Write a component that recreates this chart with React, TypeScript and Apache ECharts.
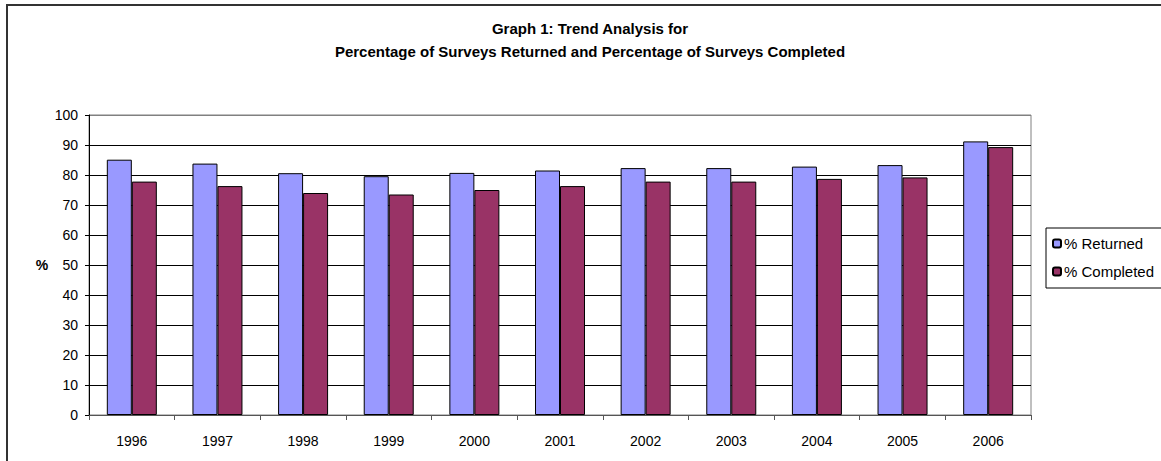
import React, { useEffect, useRef } from "react";
import * as echarts from "echarts";

const years = ["1996", "1997", "1998", "1999", "2000", "2001", "2002", "2003", "2004", "2005", "2006"];
const returned = [85.1, 83.8, 80.6, 79.6, 80.7, 81.5, 82.3, 82.3, 82.8, 83.3, 91.2];
const completed = [77.8, 76.3, 74.0, 73.5, 75.0, 76.3, 77.8, 77.8, 78.7, 79.2, 89.3];
const titleText = "Graph 1: Trend Analysis for\nPercentage of Surveys Returned and Percentage of Surveys Completed";
const seriesNames = ["% Returned", "% Completed"];

const FONT = "'Liberation Sans', Arial, sans-serif";

export default function App() {
  const ref = useRef<HTMLDivElement>(null);
  useEffect(() => {
    document.body.style.margin = "0";
    const chart = echarts.init(ref.current!, null, { renderer: "svg" });
    const splitColors = Array.from({ length: 11 }, (_, i) => (i === 10 ? "#808080" : "#000000"));
    chart.setOption({
      animation: false,
      backgroundColor: "#ffffff",
      textStyle: { fontFamily: FONT },
      title: {
        text: titleText,
        left: 590,
        top: 17,
        textAlign: "center",
        padding: 0,
        textStyle: { fontSize: 15, fontWeight: "bold", color: "#000", lineHeight: 23, fontFamily: FONT },
      },
      graphic: [
        {
          type: "rect",
          shape: { x: 7, y: 5, width: 1200, height: 500 },
          style: { fill: "none", stroke: "#333333", lineWidth: 2 },
          silent: true,
        },
        {
          type: "text",
          x: 42,
          y: 265,
          style: { text: "%", fontSize: 14, fontWeight: "bold", fill: "#000", fontFamily: FONT, textAlign: "center", textVerticalAlign: "middle" },
        },
      ],
      legend: {
        orient: "vertical",
        left: 1046,
        top: 228,
        data: seriesNames,
        itemWidth: 8,
        itemHeight: 8,
        itemGap: 13,
        borderColor: "#000",
        borderWidth: 1,
        padding: [8, 12, 9, 6],
        textStyle: { fontSize: 15, color: "#000", fontFamily: FONT, padding: [0, 0, 0, -2] },
      },
      grid: {
        left: 89,
        right: 130,
        top: 115,
        bottom: 46,
        show: true,
        borderColor: "#808080",
        borderWidth: 1,
      },
      xAxis: {
        type: "category",
        data: years,
        boundaryGap: true,
        axisLine: { show: true, lineStyle: { color: "#555555", width: 1 } },
        axisTick: { show: true, interval: 0, alignWithLabel: false, length: 5, lineStyle: { color: "#555555" } },
        axisLabel: { fontSize: 14, color: "#000", margin: 19, interval: 0, fontFamily: FONT },
      },
      yAxis: {
        type: "value",
        min: 0,
        max: 100,
        interval: 10,
        axisLine: { show: true, lineStyle: { color: "#000", width: 1 } },
        axisTick: { show: true, length: 4, lineStyle: { color: "#000" } },
        axisLabel: { fontSize: 14, color: "#000", margin: 11, fontFamily: FONT },
        splitLine: { show: true, lineStyle: { color: splitColors, width: 1 } },
      },
      series: [
        {
          name: seriesNames[0],
          type: "bar",
          data: returned,
          barWidth: 25,
          barGap: "0%",
          itemStyle: { color: "#9999FF", borderColor: "#000", borderWidth: 1 },
        },
        {
          name: seriesNames[1],
          type: "bar",
          data: completed,
          barWidth: 25,
          barGap: "0%",
          itemStyle: { color: "#993366", borderColor: "#000", borderWidth: 1 },
        },
      ],
    });
    return () => chart.dispose();
  }, []);
  return <div ref={ref} style={{ width: 1161, height: 461 }} />;
}
